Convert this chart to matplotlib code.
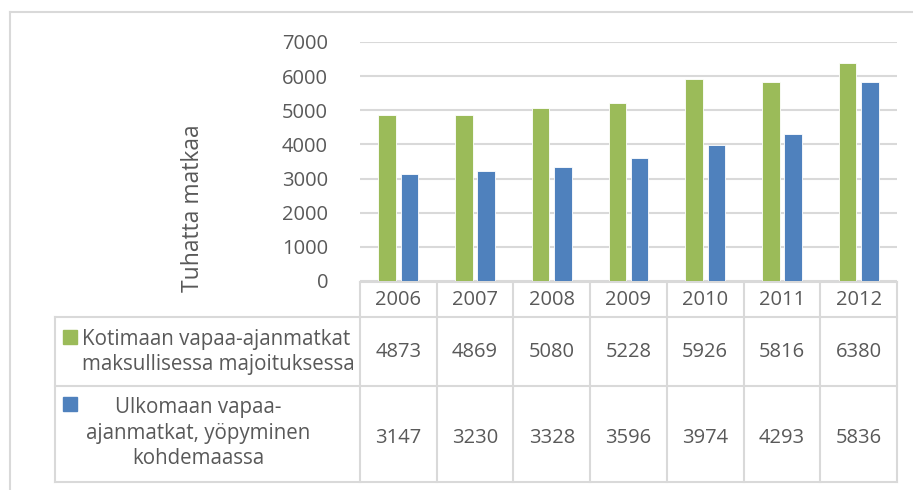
import matplotlib.pyplot as plt
from matplotlib.patches import Rectangle
from matplotlib.lines import Line2D

years = ["2006", "2007", "2008", "2009", "2010", "2011", "2012"]
kotimaan = [4873, 4869, 5080, 5228, 5926, 5816, 6380]
ulkomaan = [3147, 3230, 3328, 3596, 3974, 4293, 5836]
series_labels = ["Kotimaan vapaa-ajanmatkat\nmaksullisessa majoituksessa",
                 "Ulkomaan vapaa-\najanmatkat, yöpyminen\nkohdemaassa"]
green = "#9BBB59"
blue = "#4F81BD"
txt = "#595959"
grid = "#D9D9D9"

plt.rcParams["font.family"] = ["Open Sans", "DejaVu Sans"]
W, H = 913, 490
fig = plt.figure(figsize=(W / 100, H / 100), dpi=100)

# pixel layout
x0, x1 = 360, 897
ytop, ybot = 42, 281
ax = fig.add_axes([x0 / W, 1 - ybot / H, (x1 - x0) / W, (ybot - ytop) / H])
n = len(years)
xs = range(n)
bw = 0.23
ax.bar([x - 0.145 for x in xs], kotimaan, bw, color=green, edgecolor="white", linewidth=0.6, zorder=3)
ax.bar([x + 0.145 for x in xs], ulkomaan, bw, color=blue, edgecolor="white", linewidth=0.6, zorder=3)
ax.set_xlim(-0.5, n - 0.5)
ax.set_ylim(0, 7000)
ax.set_yticks(range(0, 7001, 1000))
ax.yaxis.grid(True, color=grid, linewidth=1.5, zorder=0)
ax.set_xticks([])
ax.tick_params(axis="y", length=0, pad=23, labelsize=14.5, labelcolor=txt)
for s in ax.spines.values():
    s.set_visible(False)

# overlay in pixel coords for table, labels, border
ov = fig.add_axes([0, 0, 1, 1], zorder=-1)
ov.set_xlim(0, W)
ov.set_ylim(H, 0)
ov.axis("off")
ov.patch.set_alpha(0)

lc = "#D9D9D9"
lw = 1.5
# outer frame
ov.add_line(Line2D([10, W], [12, 12], color=lc, lw=lw))
ov.add_line(Line2D([10, 10], [12, H], color=lc, lw=lw))

cw = (x1 - x0) / n
rows = [282, 317, 386, 482]
ov.add_line(Line2D([x0, x1], [rows[0], rows[0]], color=lc, lw=lw))
for r in rows[1:]:
    ov.add_line(Line2D([55, x1], [r, r], color=lc, lw=lw))
ov.add_line(Line2D([55, 55], [rows[1], rows[3]], color=lc, lw=lw))
for i in range(n + 1):
    xx = x0 + i * cw
    ov.add_line(Line2D([xx, xx], [rows[0], rows[3]], color=lc, lw=lw))

fs = 14.5
for i, y in enumerate(years):
    cx = x0 + (i + 0.5) * cw
    ov.text(cx, (rows[0] + rows[1]) / 2, y, ha="center", va="center", fontsize=fs, color=txt)
    ov.text(cx, (rows[1] + rows[2]) / 2, str(kotimaan[i]), ha="center", va="center", fontsize=fs, color=txt)
    ov.text(cx, (rows[2] + rows[3]) / 2 + 4, str(ulkomaan[i]), ha="center", va="center", fontsize=fs, color=txt)

# legend keys
ov.add_patch(Rectangle((63, 330), 14, 14, color=green))
ov.add_patch(Rectangle((63, 397), 14, 14, color=blue))
ov.text(82, 352, series_labels[0], ha="left", va="center", fontsize=14.8, color=txt, linespacing=1.3)
ov.text(198, 433, series_labels[1], ha="center", va="center", fontsize=14.8, color=txt,
        multialignment="center", linespacing=1.3)

ov.text(193, 208, "Tuhatta matkaa", rotation=90, ha="center", va="center", fontsize=16.5, color=txt)

fig.savefig("out.png", dpi=100)
